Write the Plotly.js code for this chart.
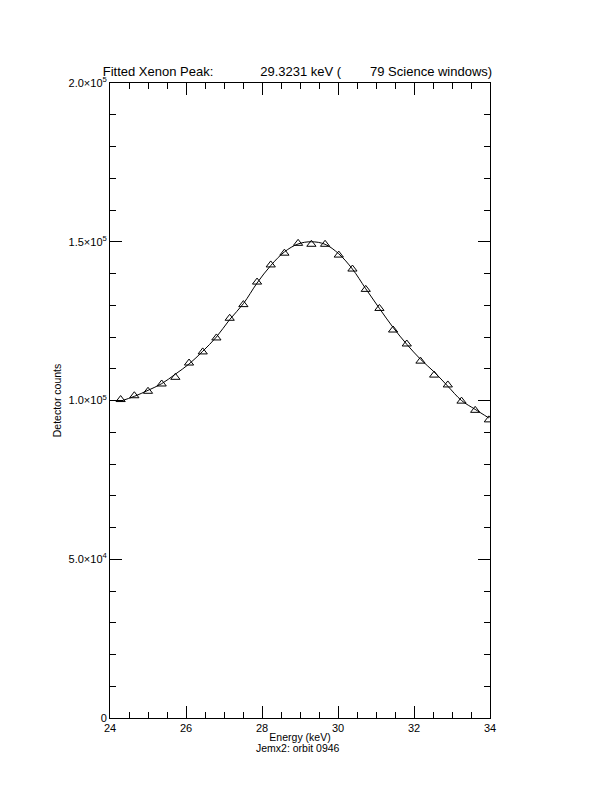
<!DOCTYPE html>
<html>
<head>
<meta charset="utf-8">
<script src="https://cdn.plot.ly/plotly-3.0.1.min.js"></script>
<style>html,body{margin:0;padding:0;background:#fff;}#chart{width:612px;height:792px;}</style>
</head>
<body>
<div id="chart"></div>
<script>
// Measured data points (energy in keV, detector counts)
const energy = [24.28, 24.64, 25.00, 25.36, 25.72, 26.08, 26.44, 26.80, 27.15, 27.51,
                27.87, 28.23, 28.59, 28.95, 29.30, 29.66, 30.02, 30.38, 30.73, 31.09,
                31.45, 31.81, 32.17, 32.53, 32.89, 33.25, 33.61, 33.97];
const counts = [100300, 101500, 102900, 105200, 107300, 111800, 115300, 119700, 125900, 130200,
                137300, 142700, 146400, 149500, 149200, 149200, 145800, 141400, 135000, 129000,
                122200, 117800, 112400, 108000, 104900, 99800, 96900, 93900];
// Fitted curve
const fitCounts = [99800, 101300, 103200, 105300, 108300, 111500, 115500, 120000, 125500, 130500,
                   137000, 142500, 146800, 149300, 150000, 149200, 146200, 141400, 135200, 129000,
                   123000, 117700, 113000, 109000, 104500, 100000, 97200, 94500];
const yTickVals = [0, 50000, 100000, 150000, 200000];
const yTickText = ['0', '5.0×10<sup>4</sup>', '1.0×10<sup>5</sup>', '1.5×10<sup>5</sup>', '2.0×10<sup>5</sup>'];
const xTickVals = [24, 26, 28, 30, 32, 34];
const titleText = 'Fitted Xenon Peak:' + '\u00a0'.repeat(13) + '29.3231 keV (' + '\u00a0'.repeat(8) + '79 Science windows)';
const xTitle = 'Energy (keV)';
const subTitle = 'Jemx2: orbit 0946';
const yTitle = 'Detector counts';

const font = {family: 'Liberation Sans, Arial, sans-serif', size: 11, color: '#000'};
const smallFont = {family: font.family, size: 10.5, color: '#000'};

const traces = [
  {x: energy, y: fitCounts, type: 'scatter', mode: 'lines',
   line: {color: '#000', width: 1, shape: 'spline', smoothing: 1}, hoverinfo: 'skip'},
  {x: energy, y: counts, type: 'scatter', mode: 'markers',
   marker: {symbol: 'triangle-up-open', size: 8, color: '#000', line: {color: '#000', width: 1}}}
];

const axisCommon = {
  showline: true, linecolor: '#000', linewidth: 1, mirror: 'allticks',
  ticks: 'inside', ticklen: 12, tickwidth: 1, tickcolor: '#000',
  showgrid: false, zeroline: false, tickfont: font
};

const layout = {
  width: 612, height: 792,
  margin: {l: 110, r: 122, t: 83, b: 74},
  paper_bgcolor: '#fff', plot_bgcolor: '#fff',
  showlegend: false,
  font: font,
  title: {text: titleText, font: {family: font.family, size: 13, color: '#000'},
          xref: 'container', yref: 'container', x: 0.486, y: 1 - 71/792,
          xanchor: 'center', yanchor: 'middle'},
  xaxis: Object.assign({}, axisCommon, {
    range: [24, 34], tickmode: 'array', tickvals: xTickVals,
    ticktext: xTickVals.map(String),
    minor: {dtick: 0.5, ticks: 'inside', ticklen: 6, tickwidth: 1, tickcolor: '#000', showgrid: false},
    title: {text: xTitle, font: smallFont, standoff: 0}
  }),
  yaxis: Object.assign({}, axisCommon, {
    range: [0, 200000], tickmode: 'array', tickvals: yTickVals, ticktext: yTickText,
    minor: {dtick: 10000, ticks: 'inside', ticklen: 6, tickwidth: 1, tickcolor: '#000', showgrid: false},
    title: {text: yTitle, font: smallFont, standoff: 4}
  }),
  annotations: [
    {text: subTitle, xref: 'paper', yref: 'paper', x: 0.495, y: -30/635,
     xanchor: 'center', yanchor: 'middle', showarrow: false, font: smallFont}
  ]
};

Plotly.newPlot('chart', traces, layout, {displayModeBar: false, staticPlot: true});
</script>
</body>
</html>
